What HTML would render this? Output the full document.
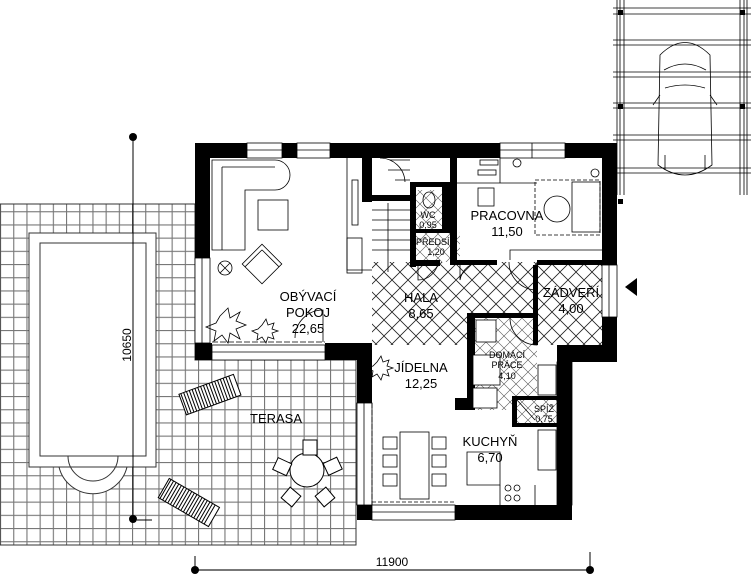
<!DOCTYPE html>
<html><head><meta charset="utf-8"><style>
html,body{margin:0;padding:0;background:#fff}
svg{display:block}
text{font-family:"Liberation Sans",Arial,sans-serif;fill:#000}
</style></head><body>
<svg width="751" height="579" viewBox="0 0 751 579" xmlns="http://www.w3.org/2000/svg">
<defs>
<pattern id="grid" x="0" y="0" width="13.2" height="13.2" patternUnits="userSpaceOnUse">
<rect width="13.2" height="13.2" fill="#fff"/>
<path d="M0 0.5H13.2M0.5 0V13.2" stroke="#777" stroke-width="1.2"/>
</pattern>
<pattern id="tile" width="16" height="16" patternUnits="userSpaceOnUse">
<rect width="16" height="16" fill="#fff"/>
<path d="M0 0L16 16M16 0L0 16" stroke="#222" stroke-width="0.8"/>
</pattern>
<pattern id="tile2" width="12" height="12" patternUnits="userSpaceOnUse">
<rect width="12" height="12" fill="#fff"/>
<path d="M0 0L12 12M12 0L0 12" stroke="#555" stroke-width="0.6"/>
</pattern>
</defs>

<path d="M0 204H195V360H356V545H0Z" fill="url(#grid)" stroke="#333" stroke-width="1"/>

<rect x="29" y="233" width="127" height="234" fill="#fff" stroke="#333"/>
<rect x="40" y="243" width="106" height="213" fill="#fff" stroke="#333"/>
<path d="M59 467A35 35 0 0 0 127 467Z" fill="#fff" stroke="#333"/>
<path d="M68 456A25 25 0 0 0 118 456" fill="none" stroke="#333"/>

<g transform="translate(209,395) rotate(-20)">
<rect x="-28" y="-11" width="58" height="22" fill="#fff" stroke="#000"/>
<path d="M-26 -11V11M-23 -11V11M-20 -11V11M-17 -11V11M-14 -11V11M-11 -11V11M-8 -11V11M-5 -11V11M-2 -11V11M1 -11V11M4 -11V11M7 -11V11M10 -11V11M13 -11V11M16 -11V11M19 -11V11M22 -11V11M25 -11V11" stroke="#000" stroke-width="1"/>
</g>
<g transform="translate(188,502) rotate(30)">
<rect x="-28" y="-11" width="58" height="22" fill="#fff" stroke="#000"/>
<path d="M-26 -11V11M-23 -11V11M-20 -11V11M-17 -11V11M-14 -11V11M-11 -11V11M-8 -11V11M-5 -11V11M-2 -11V11M1 -11V11M4 -11V11M7 -11V11M10 -11V11M13 -11V11M16 -11V11M19 -11V11M22 -11V11M25 -11V11" stroke="#000" stroke-width="1"/>
</g>
<g fill="#fff" stroke="#000">
<circle cx="307" cy="470" r="17"/>
<rect x="303" y="440" width="14" height="15"/>
<rect x="275" y="460" width="15" height="13" transform="rotate(25 282 466)"/>
<rect x="325" y="460" width="15" height="13" transform="rotate(-25 332 466)"/>
<rect x="284" y="490" width="14" height="14" transform="rotate(40 291 497)"/>
<rect x="318" y="490" width="14" height="14" transform="rotate(-40 325 497)"/>
</g>
<text x="250" y="423" font-size="13">TERASA</text>

<rect x="372" y="262" width="165" height="83" fill="url(#tile)"/>
<rect x="537" y="265" width="66" height="80" fill="url(#tile)"/>
<rect x="475" y="318" width="62" height="92" fill="url(#tile2)"/>
<rect x="412" y="232" width="48" height="30" fill="url(#tile2)"/>
<rect x="412" y="190" width="30" height="40" fill="url(#tile2)"/>
<rect x="515" y="400" width="42" height="25" fill="url(#tile2)"/>

<g fill="#000">
<rect x="195" y="143" width="52" height="15"/>
<rect x="282" y="143" width="15" height="15"/>
<rect x="330" y="143" width="170" height="15"/>
<rect x="565" y="143" width="52" height="15"/>
<rect x="195" y="143" width="15" height="115"/>
<rect x="195" y="343" width="17" height="17"/>
<rect x="325" y="343" width="47" height="17"/>
<rect x="357" y="343" width="15" height="60"/>
<rect x="357" y="505" width="15" height="15"/>
<rect x="455" y="505" width="117" height="15"/>
<rect x="557" y="345" width="15" height="175"/>
<rect x="557" y="345" width="60" height="17"/>
<rect x="602" y="143" width="15" height="122"/>
<rect x="602" y="317" width="15" height="45"/>
<rect x="362" y="157" width="10" height="45"/>
<rect x="372" y="195" width="38" height="6"/>
<rect x="410" y="182" width="6" height="85"/>
<rect x="410" y="182" width="40" height="5"/>
<rect x="442" y="182" width="8" height="50"/>
<rect x="410" y="229" width="40" height="4"/>
<rect x="450" y="157" width="7" height="108"/>
<rect x="410" y="260" width="30" height="6"/>
<rect x="457" y="260" width="40" height="5"/>
<rect x="537" y="260" width="70" height="5"/>
<rect x="533" y="265" width="5" height="80"/>
<rect x="467" y="313" width="8" height="97"/>
<rect x="467" y="313" width="70" height="5"/>
<rect x="512" y="398" width="5" height="27"/>
<rect x="512" y="396" width="45" height="4"/>
<rect x="512" y="423" width="45" height="4"/>
<rect x="455" y="398" width="17" height="12"/>
</g>

<g fill="#fff" stroke="#000" stroke-width="0.8">
<rect x="247" y="143" width="35" height="15"/><path d="M247 150H282"/>
<rect x="297" y="143" width="33" height="15"/><path d="M297 150H330"/>
<rect x="500" y="143" width="65" height="15"/><path d="M500 150H565M532 143V158"/>
<rect x="195" y="258" width="15" height="85"/><path d="M202 258V343"/>
<rect x="212" y="345" width="113" height="15"/><path d="M212 352H325"/>
<rect x="357" y="403" width="15" height="102"/><path d="M364 403V505"/>
<rect x="372" y="505" width="83" height="15"/><path d="M372 512H455"/>
<rect x="602" y="265" width="15" height="52"/><path d="M609 265V317"/>
<rect x="557" y="362" width="15" height="143" fill="none"/>
</g>

<g fill="none" stroke="#000" stroke-width="0.8">
<path d="M212 160H275A14 14 0 0 1 275 190H245V250H212Z"/>
<path d="M222 167H275M222 167V250"/>
<rect x="258" y="200" width="30" height="30"/>
<g transform="rotate(45 262 264)"><rect x="248" y="250" width="28" height="28"/><path d="M252 254H276M252 254V278"/></g>
<circle cx="225" cy="268" r="7"/><path d="M220 263L230 273M230 263L220 273"/>
<path d="M347 157V270H372"/>
<rect x="352" y="180" width="6" height="45"/>
<rect x="347" y="238" width="15" height="35"/>
<path d="M212 342H325" stroke-dasharray="6 2"/>
<path d="M323 342V310A28 28 0 0 0 295 338"/>
<path d="M220 316l8-8 2 10 10-6-4 9 10 4-10 4 4 10-10-6-2 10-6-8-8 6 2-10-10-4 10-4z"/>
<path d="M262 325l4-6 2 6 6-2-2 6 6 2-6 2 2 6-6-2-2 6-4-6-5 3 1-6-6-3 6-2z"/>
<path d="M377 362l4-6 2 6 6-2-2 6 6 2-6 2 2 6-6-2-2 6-4-6-5 3 1-6-6-3 6-2z"/>
</g>
<text x="308" y="301" font-size="13" text-anchor="middle">OBÝVACÍ</text>
<text x="308" y="317" font-size="13" text-anchor="middle">POKOJ</text>
<text x="308" y="333" font-size="13" text-anchor="middle">22,65</text>

<g fill="none" stroke="#000" stroke-width="0.8">
<path d="M372 210H410M372 220H410M372 230H410M372 240H410M372 250H410M390 160H410M388 170H410M395 180H410"/>
<path d="M388 272V203" />
<path d="M405 182A25 25 0 0 0 380 158"/>
<ellipse cx="429" cy="200" rx="6" ry="8"/>
<path d="M418 262V280A20 20 0 0 0 438 262"/>
<path d="M460 262V280A22 22 0 0 1 482 262" />
<path d="M537 262V290A28 28 0 0 1 509 262"/>
<path d="M537 318V345A27 27 0 0 1 510 318"/>
<path d="M517 400L535 420"/>
</g>
<text x="428" y="218" font-size="9" text-anchor="middle">WC</text>
<text x="428" y="228" font-size="9" text-anchor="middle">0,95</text>
<text x="436" y="245" font-size="9" text-anchor="middle">PŘEDSÍŇ</text>
<text x="436" y="255" font-size="9" text-anchor="middle">1,20</text>

<g fill="none" stroke="#000" stroke-width="0.8">
<path d="M457 183H500V157M500 183H537"/>
<rect x="480" y="160" width="18" height="5"/>
<rect x="478" y="170" width="18" height="5"/>
<rect x="478" y="188" width="16" height="18"/>
<rect x="535" y="180" width="65" height="55" stroke-dasharray="4 2"/>
<rect x="572" y="182" width="28" height="50"/>
<circle cx="557" cy="209" r="13"/>
<circle cx="517" cy="163" r="4"/><circle cx="595" cy="173" r="4"/>
<path d="M510 260V250H602"/>
</g>
<text x="507" y="220" font-size="13" text-anchor="middle">PRACOVNA</text>
<text x="507" y="236" font-size="13" text-anchor="middle">11,50</text>

<text x="421" y="302" font-size="13" text-anchor="middle">HALA</text>
<text x="421" y="318" font-size="13" text-anchor="middle">8,65</text>
<text x="571" y="297" font-size="13" text-anchor="middle">ZÁDVEŘÍ</text>
<text x="571" y="313" font-size="13" text-anchor="middle">4,00</text>

<g fill="#fff" stroke="#000" stroke-width="0.8">
<rect x="476" y="320" width="20" height="22"/>
<rect x="473" y="355" width="27" height="30"/>
<rect x="473" y="388" width="24" height="20"/>
<rect x="538" y="365" width="18" height="30"/>
<rect x="538" y="430" width="18" height="40"/>
</g>
<text x="507" y="358" font-size="9" text-anchor="middle">DOMÁCÍ</text>
<text x="507" y="368" font-size="9" text-anchor="middle">PRÁCE</text>
<text x="507" y="379" font-size="9" text-anchor="middle">4,10</text>
<text x="544" y="412" font-size="9" text-anchor="middle">SPÍŽ</text>
<text x="544" y="422" font-size="9" text-anchor="middle">0,75</text>

<g fill="#fff" stroke="#000" stroke-width="0.8">
<path d="M372 502H455" stroke-dasharray="4 2" fill="none"/>
<rect x="400" y="432" width="29" height="67"/>
<rect x="383" y="437" width="14" height="12"/><rect x="383" y="455" width="14" height="12"/><rect x="383" y="474" width="14" height="12"/>
<rect x="432" y="437" width="14" height="12"/><rect x="432" y="455" width="14" height="12"/><rect x="432" y="474" width="14" height="12"/>
<path d="M467 452H500V485H467Z" fill="none"/>
<path d="M500 485V505M535 485V505" fill="none"/>
<circle cx="508" cy="488" r="3"/><circle cx="517" cy="488" r="3"/><circle cx="508" cy="498" r="3"/><circle cx="517" cy="498" r="3"/>
<path d="M372 403V505" stroke-dasharray="5 2" fill="none"/>
</g>

<text x="421" y="372" font-size="13" text-anchor="middle">JÍDELNA</text>
<text x="421" y="388" font-size="13" text-anchor="middle">12,25</text>
<text x="490" y="446" font-size="13" text-anchor="middle">KUCHYŇ</text>
<text x="490" y="462" font-size="13" text-anchor="middle">6,70</text>

<path d="M625 287L637 278V296Z" fill="#000"/>

<g stroke="#000" stroke-width="0.8" fill="none">
<path d="M617 0V195M620 0V195M624 0V195M740 0V195M744 0V195M747 0V195"/>
<path d="M613 8H751M613 14H751M613 40H751M613 45H751M613 72H751M613 77H751M613 103H751M613 108H751M613 135H751M613 140H751M613 168H751M613 173H751"/>
<path d="M660 55Q685 30 710 55L712 165Q685 185 658 165Z"/>
<path d="M664 70Q685 58 706 70M665 88Q685 82 705 88M660 95L653 105M710 95L717 105M665 155L665 170M705 155L705 170"/>
</g>
<g fill="#000"><rect x="618" y="10" width="5" height="5"/><rect x="740" y="10" width="5" height="5"/><rect x="618" y="104" width="5" height="5"/><rect x="740" y="104" width="5" height="5"/><rect x="618" y="199" width="5" height="5"/></g>

<path d="M133 137V519" stroke="#000" stroke-width="1"/>
<circle cx="133" cy="137" r="4"/><circle cx="133" cy="519" r="4"/>
<path d="M137 520H152" stroke="#000"/>
<text transform="translate(131,345) rotate(-90)" font-size="12" text-anchor="middle">10650</text>
<path d="M195 570H590" stroke="#777" stroke-width="2"/>
<path d="M195 556V570M590 552V570" stroke="#000"/>
<circle cx="195" cy="570" r="4"/><circle cx="590" cy="570" r="4"/>
<text x="392" y="566" font-size="12" text-anchor="middle">11900</text>
</svg>
</body></html>
